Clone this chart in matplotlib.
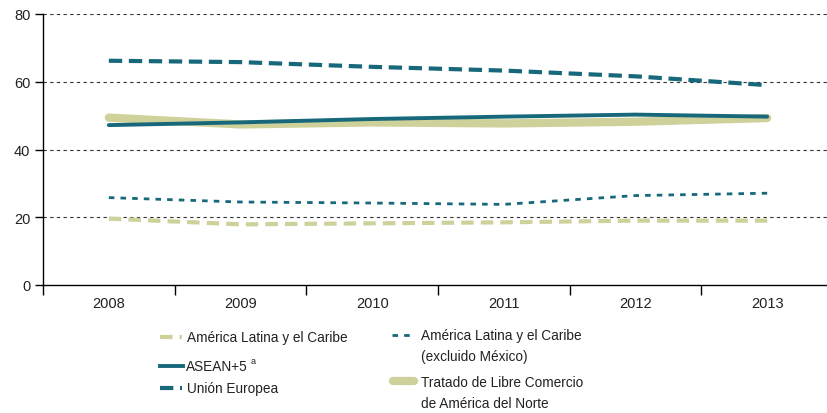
import matplotlib
matplotlib.use('Agg')
import matplotlib.pyplot as plt
from matplotlib.lines import Line2D

plt.rcParams['font.family'] = ['Liberation Sans', 'DejaVu Sans']

# Data
years = ['2008', '2009', '2010', '2011', '2012', '2013']
alc = [19.6, 17.9, 18.2, 18.5, 19.0, 19.0]
alc_sin_mex = [25.8, 24.5, 24.2, 23.8, 26.4, 27.1]
asean5 = [47.2, 48.0, 49.0, 49.7, 50.3, 49.7]
ue = [66.2, 65.8, 64.4, 63.3, 61.6, 59.0]
tlcan = [49.4, 47.4, 48.0, 47.7, 48.2, 49.3]

teal = '#17687a'
khaki = '#cfd19b'
txt = '#222222'

fig = plt.figure(figsize=(8.28, 4.14), dpi=100)
W, H = 828, 414
ax = fig.add_axes([43 / W, 1 - 286 / H, (833 - 43) / W, (286 - 15) / H])

x = list(range(len(years)))
ax.plot(x, tlcan, color=khaki, lw=6, solid_capstyle='round', zorder=3)
ax.plot(x, asean5, color=teal, lw=2.8, solid_capstyle='round', zorder=4)
ax.plot(x, ue, color=teal, lw=3, dashes=(3.2, 1.6), zorder=4)
ax.plot(x, alc_sin_mex, color=teal, lw=2, dashes=(2, 2.2), zorder=4)
ax.plot(x, alc, color=khaki, lw=3, dashes=(3, 1.7), zorder=4)

ax.set_xlim(-0.5, 5.5)
ax.set_ylim(0, 80)
ax.set_yticks([0, 20, 40, 60, 80])
for yv in [20, 40, 60, 80]:
    ax.axhline(yv, color='#333333', lw=0.8, dashes=(3, 3), zorder=1)

ax.set_xticks(x)
ax.set_xticklabels(years)
ax.set_xticks([i - 0.5 for i in range(len(years) + 1)], minor=True)
ax.tick_params(axis='x', which='major', length=0, pad=8, labelsize=10.5, labelcolor=txt)
ax.tick_params(axis='x', which='minor', length=7, width=1, direction='out')
ax.tick_params(axis='y', length=6, width=1, direction='out', pad=3, labelsize=10.5, labelcolor=txt)
for s in ['top', 'right']:
    ax.spines[s].set_visible(False)
ax.spines['left'].set_linewidth(1)
ax.spines['bottom'].set_linewidth(1)

# Legend (manual layout)
fs = 9.8
def handle(x0, x1, y, **kw):
    fig.add_artist(Line2D([x0 / W, x1 / W], [1 - y / H, 1 - y / H], **kw))

handle(160, 182, 338, color=khaki, lw=3, dashes=(3, 1.7))
fig.text(187 / W, 1 - 338 / H, 'América Latina y el Caribe', fontsize=fs, va='center', color=txt)
handle(160, 183, 367, color=teal, lw=2.8)
fig.text(186 / W, 1 - 367 / H, 'ASEAN+5', fontsize=fs, va='center', color=txt)
fig.text(251 / W, 1 - 362 / H, 'a', fontsize=6.5, va='center', color=txt)
handle(160, 182, 389, color=teal, lw=3, dashes=(3.2, 1.6))
fig.text(187 / W, 1 - 389 / H, 'Unión Europea', fontsize=fs, va='center', color=txt)

handle(392, 415, 336, color=teal, lw=2, dashes=(2, 2.2))
fig.text(421 / W, 1 - 336 / H, 'América Latina y el Caribe', fontsize=fs, va='center', color=txt)
fig.text(421 / W, 1 - 357 / H, '(excluido México)', fontsize=fs, va='center', color=txt)
handle(393, 414, 382, color=khaki, lw=6, solid_capstyle='round')
fig.text(421 / W, 1 - 383 / H, 'Tratado de Libre Comercio', fontsize=fs, va='center', color=txt)
fig.text(421 / W, 1 - 404 / H, 'de América del Norte', fontsize=fs, va='center', color=txt)

fig.savefig('out.png', dpi=100)
